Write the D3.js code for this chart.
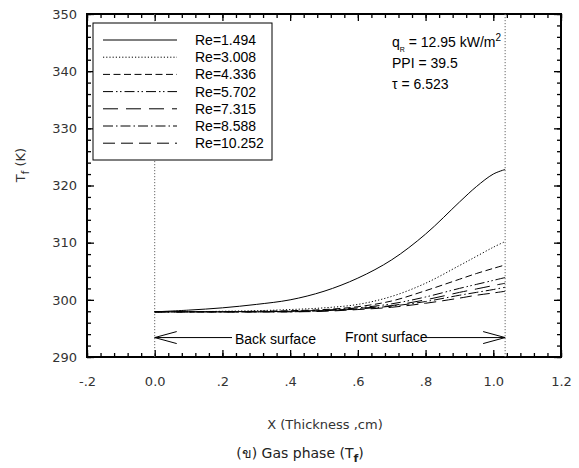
<!DOCTYPE html>
<html>
<head>
<meta charset="utf-8">
<script src="https://cdn.jsdelivr.net/npm/d3@7"></script>
<style>
  body { margin: 0; background: #fff; }
  svg { display: block; }
</style>
</head>
<body>
<div id="chart"></div>
<script>
// data
const xGrid = [0, 0.1, 0.2, 0.3, 0.4, 0.5, 0.6, 0.7, 0.8, 0.9, 0.95, 1.0, 1.035];
const reLabels = ['Re=1.494', 'Re=3.008', 'Re=4.336', 'Re=5.702', 'Re=7.315', 'Re=8.588', 'Re=10.252'];
const tRe1494  = [297.9, 298.2, 298.6, 299.2, 300.0, 301.5, 303.8, 307.0, 311.5, 317.1, 319.8, 322.0, 322.8];
const tRe3008  = [297.9, 297.9, 298.0, 298.1, 298.3, 298.6, 299.2, 300.6, 302.9, 306.0, 307.6, 309.2, 310.2];
const tRe4336  = [297.9, 297.9, 297.9, 298.0, 298.1, 298.3, 298.8, 299.8, 301.6, 303.6, 304.6, 305.5, 306.1];
const tRe5702  = [297.9, 297.9, 297.9, 297.9, 298.0, 298.2, 298.6, 299.3, 300.5, 302.0, 302.7, 303.4, 303.9];
const tRe7315  = [297.9, 297.9, 297.9, 297.9, 298.0, 298.1, 298.5, 299.0, 300.0, 301.3, 301.9, 302.5, 302.9];
const tRe8588  = [297.9, 297.9, 297.9, 297.9, 297.9, 298.1, 298.4, 298.9, 299.7, 300.8, 301.3, 301.8, 302.2];
const tRe10252 = [297.9, 297.9, 297.9, 297.9, 297.9, 298.0, 298.3, 298.7, 299.4, 300.3, 300.8, 301.2, 301.5];
const seriesValues = [tRe1494, tRe3008, tRe4336, tRe5702, tRe7315, tRe8588, tRe10252];
const dashStyles = ['none', '1.2,2', '7,3.5', '10,3,1.5,2.5,1.5,3', '15,8', '10,3,1.5,3', '12,6'];

const xTicks = [-0.2, 0, 0.2, 0.4, 0.6, 0.8, 1.0, 1.2];
const xTickLabels = ['-.2', '0.0', '.2', '.4', '.6', '.8', '1.0', '1.2'];
const yTicks = [290, 300, 310, 320, 330, 340, 350];
const surfaceLines = [0, 1.035];

const width = 579, height = 468;
const margin = {top: 14, right: 18, bottom: 111, left: 87};
const innerW = width - margin.left - margin.right;
const innerH = height - margin.top - margin.bottom;

const svg = d3.select('#chart').append('svg')
    .attr('width', width)
    .attr('height', height);

const g = svg.append('g')
    .attr('transform', `translate(${margin.left},${margin.top})`);

const x = d3.scaleLinear().domain([-0.2, 1.2]).range([0, innerW]);
const y = d3.scaleLinear().domain([290, 350]).range([innerH, 0]);

const labelFont = 'Tahoma, "DejaVu Sans", sans-serif';
const textFont = '"Liberation Sans", Arial, sans-serif';

// minor ticks, inward on all four sides
const xMinor = d3.range(-0.2, 1.2001, 0.04);
const yMinor = d3.range(290, 350.001, 2);

g.append('g').call(d3.axisBottom(x).tickValues(xMinor).tickSize(-4).tickFormat(''))
    .attr('transform', `translate(0,${innerH})`);
g.append('g').call(d3.axisTop(x).tickValues(xMinor).tickSize(-4).tickFormat(''));
g.append('g').call(d3.axisLeft(y).tickValues(yMinor).tickSize(-4).tickFormat(''));
g.append('g').call(d3.axisRight(y).tickValues(yMinor).tickSize(-4).tickFormat(''))
    .attr('transform', `translate(${innerW},0)`);

// major ticks
const xAxis = g.append('g')
    .attr('transform', `translate(0,${innerH})`)
    .call(d3.axisBottom(x).tickValues(xTicks).tickSize(-7).tickPadding(20)
        .tickFormat((d, i) => xTickLabels[i]));
g.append('g').call(d3.axisTop(x).tickValues(xTicks).tickSize(-7).tickFormat(''));
const yAxis = g.append('g')
    .call(d3.axisLeft(y).tickValues(yTicks).tickSize(-7).tickPadding(10));
g.append('g').call(d3.axisRight(y).tickValues(yTicks).tickSize(-7).tickFormat(''))
    .attr('transform', `translate(${innerW},0)`);

g.selectAll('.domain').remove();
g.selectAll('.tick line').attr('stroke', '#000').attr('stroke-width', 1.3);
[xAxis, yAxis].forEach(a => a.selectAll('text')
    .style('font-family', labelFont)
    .style('font-size', '13px')
    .attr('fill', '#333'));

// frame
g.append('rect')
    .attr('width', innerW)
    .attr('height', innerH)
    .attr('fill', 'none')
    .attr('stroke', '#000')
    .attr('stroke-width', 2);

// dotted surface lines
g.selectAll('.surface')
    .data(surfaceLines)
    .enter().append('line')
    .attr('x1', d => x(d)).attr('x2', d => x(d))
    .attr('y1', 0).attr('y2', innerH)
    .attr('stroke', '#666')
    .attr('stroke-width', 1)
    .attr('stroke-dasharray', '1.2,1.8');

// curves
const line = d3.line()
    .x((d, i) => x(xGrid[i]))
    .y(d => y(d))
    .curve(d3.curveCatmullRom.alpha(0.5));

g.selectAll('.curve')
    .data(seriesValues)
    .enter().append('path')
    .attr('d', line)
    .attr('fill', 'none')
    .attr('stroke', '#000')
    .attr('stroke-width', 1)
    .attr('stroke-dasharray', (d, i) => dashStyles[i]);

// arrows for back / front surface
const arrowY = y(293.4);
const arrowTip = 22, arrowHalf = 6;
function arrow(x0, x1, dir) {
    g.append('line')
        .attr('x1', x(x0)).attr('x2', x1)
        .attr('y1', arrowY).attr('y2', arrowY)
        .attr('stroke', '#000');
    g.append('path')
        .attr('d', `M${x(x0) - dir * arrowTip},${arrowY - arrowHalf}L${x(x0)},${arrowY}L${x(x0) - dir * arrowTip},${arrowY + arrowHalf}`)
        .attr('fill', 'none')
        .attr('stroke', '#000');
}
arrow(surfaceLines[0], 232 - margin.left, -1);
arrow(surfaceLines[1], 421 - margin.left, 1);

g.append('text')
    .attr('x', 235 - margin.left).attr('y', arrowY + 6)
    .style('font-family', textFont).style('font-size', '14px')
    .text('Back surface');
g.append('text')
    .attr('x', 345 - margin.left).attr('y', arrowY + 4)
    .style('font-family', textFont).style('font-size', '14px')
    .text('Front surface');

// legend
const legend = g.append('g').attr('transform', `translate(${93 - margin.left},${23 - margin.top})`);
legend.append('rect')
    .attr('width', 179).attr('height', 137)
    .attr('fill', '#fff').attr('stroke', '#000').attr('stroke-width', 1);
reLabels.forEach((label, i) => {
    const ly = 17 + i * 17.2;
    legend.append('line')
        .attr('x1', 10).attr('x2', 84)
        .attr('y1', ly).attr('y2', ly)
        .attr('stroke', '#000')
        .attr('stroke-dasharray', dashStyles[i]);
    legend.append('text')
        .attr('x', 102).attr('y', ly + 5)
        .style('font-family', textFont).style('font-size', '14px')
        .text(label);
});

// annotation
const note = g.append('g')
    .style('font-family', textFont).style('font-size', '14px');
const q = note.append('text').attr('x', 392 - margin.left).attr('y', 47 - margin.top);
q.append('tspan').text('q');
q.append('tspan').attr('font-size', '7px').attr('dy', 5).text('R');
q.append('tspan').attr('dy', -5).text(' = 12.95 kW/m');
q.append('tspan').attr('font-size', '10px').attr('dy', -6).text('2');
note.append('text').attr('x', 392 - margin.left).attr('y', 68 - margin.top).text('PPI = 39.5');
note.append('text').attr('x', 392 - margin.left).attr('y', 89 - margin.top).text('\u03c4 = 6.523');

// axis titles
const yt = svg.append('text')
    .attr('transform', `translate(25,165) rotate(-90)`)
    .attr('text-anchor', 'middle')
    .style('font-family', labelFont).style('font-size', '13px')
    .attr('fill', '#333');
yt.append('tspan').text('T');
yt.append('tspan').attr('font-size', '10px').attr('dy', 4).text('f');
yt.append('tspan').attr('dy', -4).text(' (K)');

svg.append('text')
    .attr('x', 325).attr('y', 429)
    .attr('text-anchor', 'middle')
    .style('font-family', labelFont).style('font-size', '13px')
    .attr('fill', '#333')
    .text('X (Thickness ,cm)');

const cap = svg.append('text')
    .attr('x', 300).attr('y', 458)
    .attr('text-anchor', 'middle')
    .style('font-family', labelFont).style('font-size', '14px')
    .attr('fill', '#222');
cap.append('tspan').text('(\u0e02) Gas phase (T');
cap.append('tspan').attr('font-size', '11px').attr('dy', 4).attr('font-weight', 'bold').text('f');
cap.append('tspan').attr('dy', -4).text(')');
</script>
</body>
</html>
